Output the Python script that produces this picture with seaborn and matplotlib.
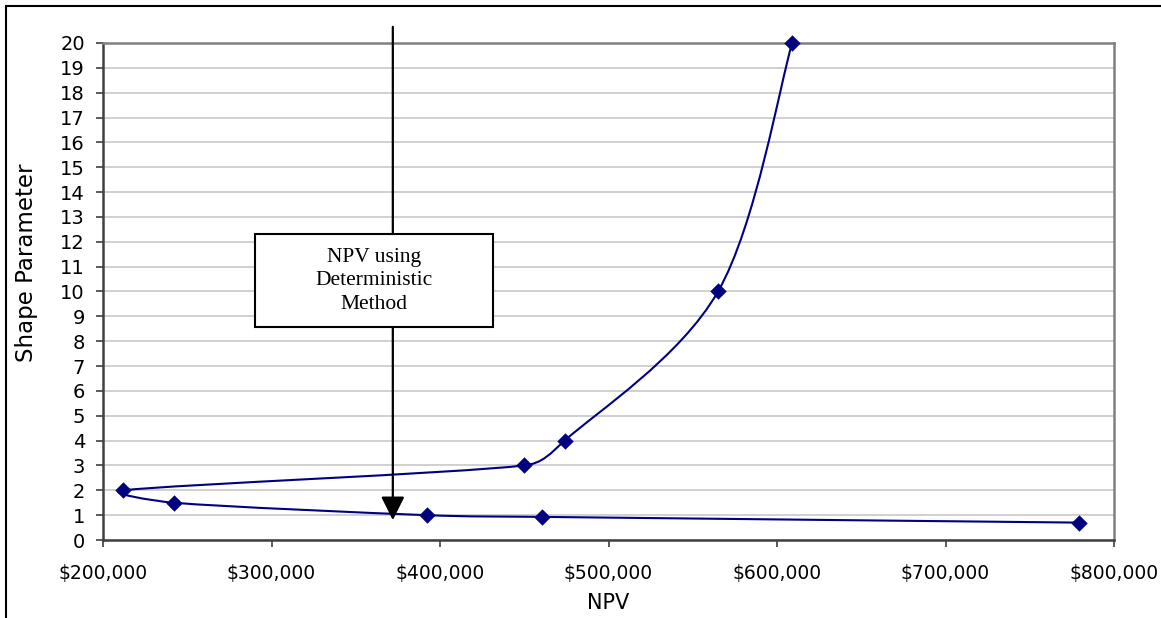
import numpy as np
import pandas as pd
import matplotlib
matplotlib.use("Agg")
import matplotlib.pyplot as plt
from matplotlib.path import Path
from matplotlib.patches import PathPatch, Rectangle
from matplotlib.ticker import FuncFormatter, MultipleLocator
import seaborn as sns

# Shape parameter sweep and the resulting NPV (in curve order)
shape_param = [20, 10, 4, 3, 2, 1.5, 1, 0.93, 0.7]
npv = [609000, 565000, 474000, 450000, 212000, 242000, 392000, 460500, 779000]

deterministic_npv = 372000
note_text = "NPV using\nDeterministic\nMethod"

x_ticks = [200000, 300000, 400000, 500000, 600000, 700000, 800000]
y_ticks = list(range(0, 21))

df = pd.DataFrame({"NPV": npv, "Shape Parameter": shape_param})

sns.set_theme(style="white")
plt.rcParams["font.family"] = ["DejaVu Sans"]
plt.rcParams["text.color"] = "black"
plt.rcParams["axes.labelcolor"] = "black"
plt.rcParams["xtick.color"] = "black"
plt.rcParams["ytick.color"] = "black"

fig = plt.figure(figsize=(11.61, 6.18), dpi=100)
ax = fig.add_axes([103 / 1161, 1 - 540 / 618, (1114 - 103) / 1161, (540 - 43) / 618])

x_min, x_max = x_ticks[0], x_ticks[-1]
y_min, y_max = y_ticks[0], y_ticks[-1]
ax.set_xlim(x_min, x_max)
ax.set_ylim(y_min, y_max)

# Smoothed connecting line (cardinal Bezier, tension capped for close points)
w_px, h_px = 1011.0, 497.0
pts = np.column_stack([(np.array(npv) - x_min) / (x_max - x_min) * w_px,
                       (np.array(shape_param) - y_min) / (y_max - y_min) * h_px])
n = len(pts)
verts = [pts[0]]
codes = [Path.MOVETO]
for i in range(n - 1):
    p0 = pts[max(i - 1, 0)]
    p1 = pts[i]
    p2 = pts[i + 1]
    p3 = pts[min(i + 2, n - 1)]
    seg = np.linalg.norm(p2 - p1)
    d1 = (p2 - p0) / 6.0
    d2 = (p3 - p1) / 6.0
    cap = 0.4 * seg
    if np.linalg.norm(d1) > cap:
        d1 = d1 / np.linalg.norm(d1) * cap
    if np.linalg.norm(d2) > cap:
        d2 = d2 / np.linalg.norm(d2) * cap
    verts += [p1 + d1, p2 - d2, p2]
    codes += [Path.CURVE4] * 3
verts = np.array(verts)
verts_data = np.column_stack([x_min + verts[:, 0] / w_px * (x_max - x_min),
                              y_min + verts[:, 1] / h_px * (y_max - y_min)])
ax.add_patch(PathPatch(Path(verts_data, codes), facecolor="none",
                       edgecolor="#000080", lw=1.5, zorder=3))

sns.scatterplot(data=df, x="NPV", y="Shape Parameter", marker="D", s=70,
                color="#000080", linewidth=0, zorder=4, ax=ax, clip_on=False)

# Grid, spines and ticks
ax.yaxis.set_major_locator(MultipleLocator(1))
ax.set_xticks(x_ticks)
ax.set_yticks(y_ticks)
ax.xaxis.set_major_formatter(FuncFormatter(lambda v, p: f"${v:,.0f}"))
ax.grid(axis="y", color="#c8c8c8", lw=1.2)
ax.grid(axis="x", visible=False)
ax.set_axisbelow(True)
for side in ["top", "right"]:
    ax.spines[side].set_color("#808080")
    ax.spines[side].set_linewidth(1.8)
for side in ["left", "bottom"]:
    ax.spines[side].set_color("#404040")
    ax.spines[side].set_linewidth(1.8)
ax.tick_params(axis="both", direction="out", length=5, width=1.2, color="#404040",
               left=True, bottom=True, labelcolor="black")
ax.tick_params(axis="y", labelsize=14, pad=8)
ax.tick_params(axis="x", labelsize=13.5, pad=12.5)

ax.set_xlabel("NPV", fontsize=15, labelpad=7)
ax.set_ylabel("Shape Parameter", fontsize=16.5)
ax.yaxis.set_label_coords(-0.064, 0.557)

# Deterministic NPV pointer
ax.annotate("", xy=(deterministic_npv, 0.8), xytext=(deterministic_npv, 20.65),
            xycoords="data", annotation_clip=False,
            arrowprops=dict(arrowstyle="-|>,head_length=1.0,head_width=0.5",
                            mutation_scale=14.4, lw=1.6, color="black",
                            shrinkA=0, shrinkB=0), zorder=5)

box_x0, box_x1 = 290200, 431500
box_y0, box_y1 = 8.57, 12.31
ax.add_patch(Rectangle((box_x0, box_y0), box_x1 - box_x0, box_y1 - box_y0,
                       facecolor="white", edgecolor="black", lw=1.5, zorder=6))
ax.text((box_x0 + box_x1) / 2, (box_y0 + box_y1) / 2, note_text,
        ha="center", va="center", fontsize=15.5, family="Liberation Serif",
        linespacing=1.32, color="black", zorder=7)

# Outer chart frame
fig.add_artist(plt.Line2D([6 / 1161, 1], [1 - 6 / 618] * 2, color="black", lw=1.5,
                          transform=fig.transFigure))
fig.add_artist(plt.Line2D([6 / 1161] * 2, [0, 1 - 6 / 618], color="black", lw=1.5,
                          transform=fig.transFigure))

fig.savefig("out.png", dpi=100)
